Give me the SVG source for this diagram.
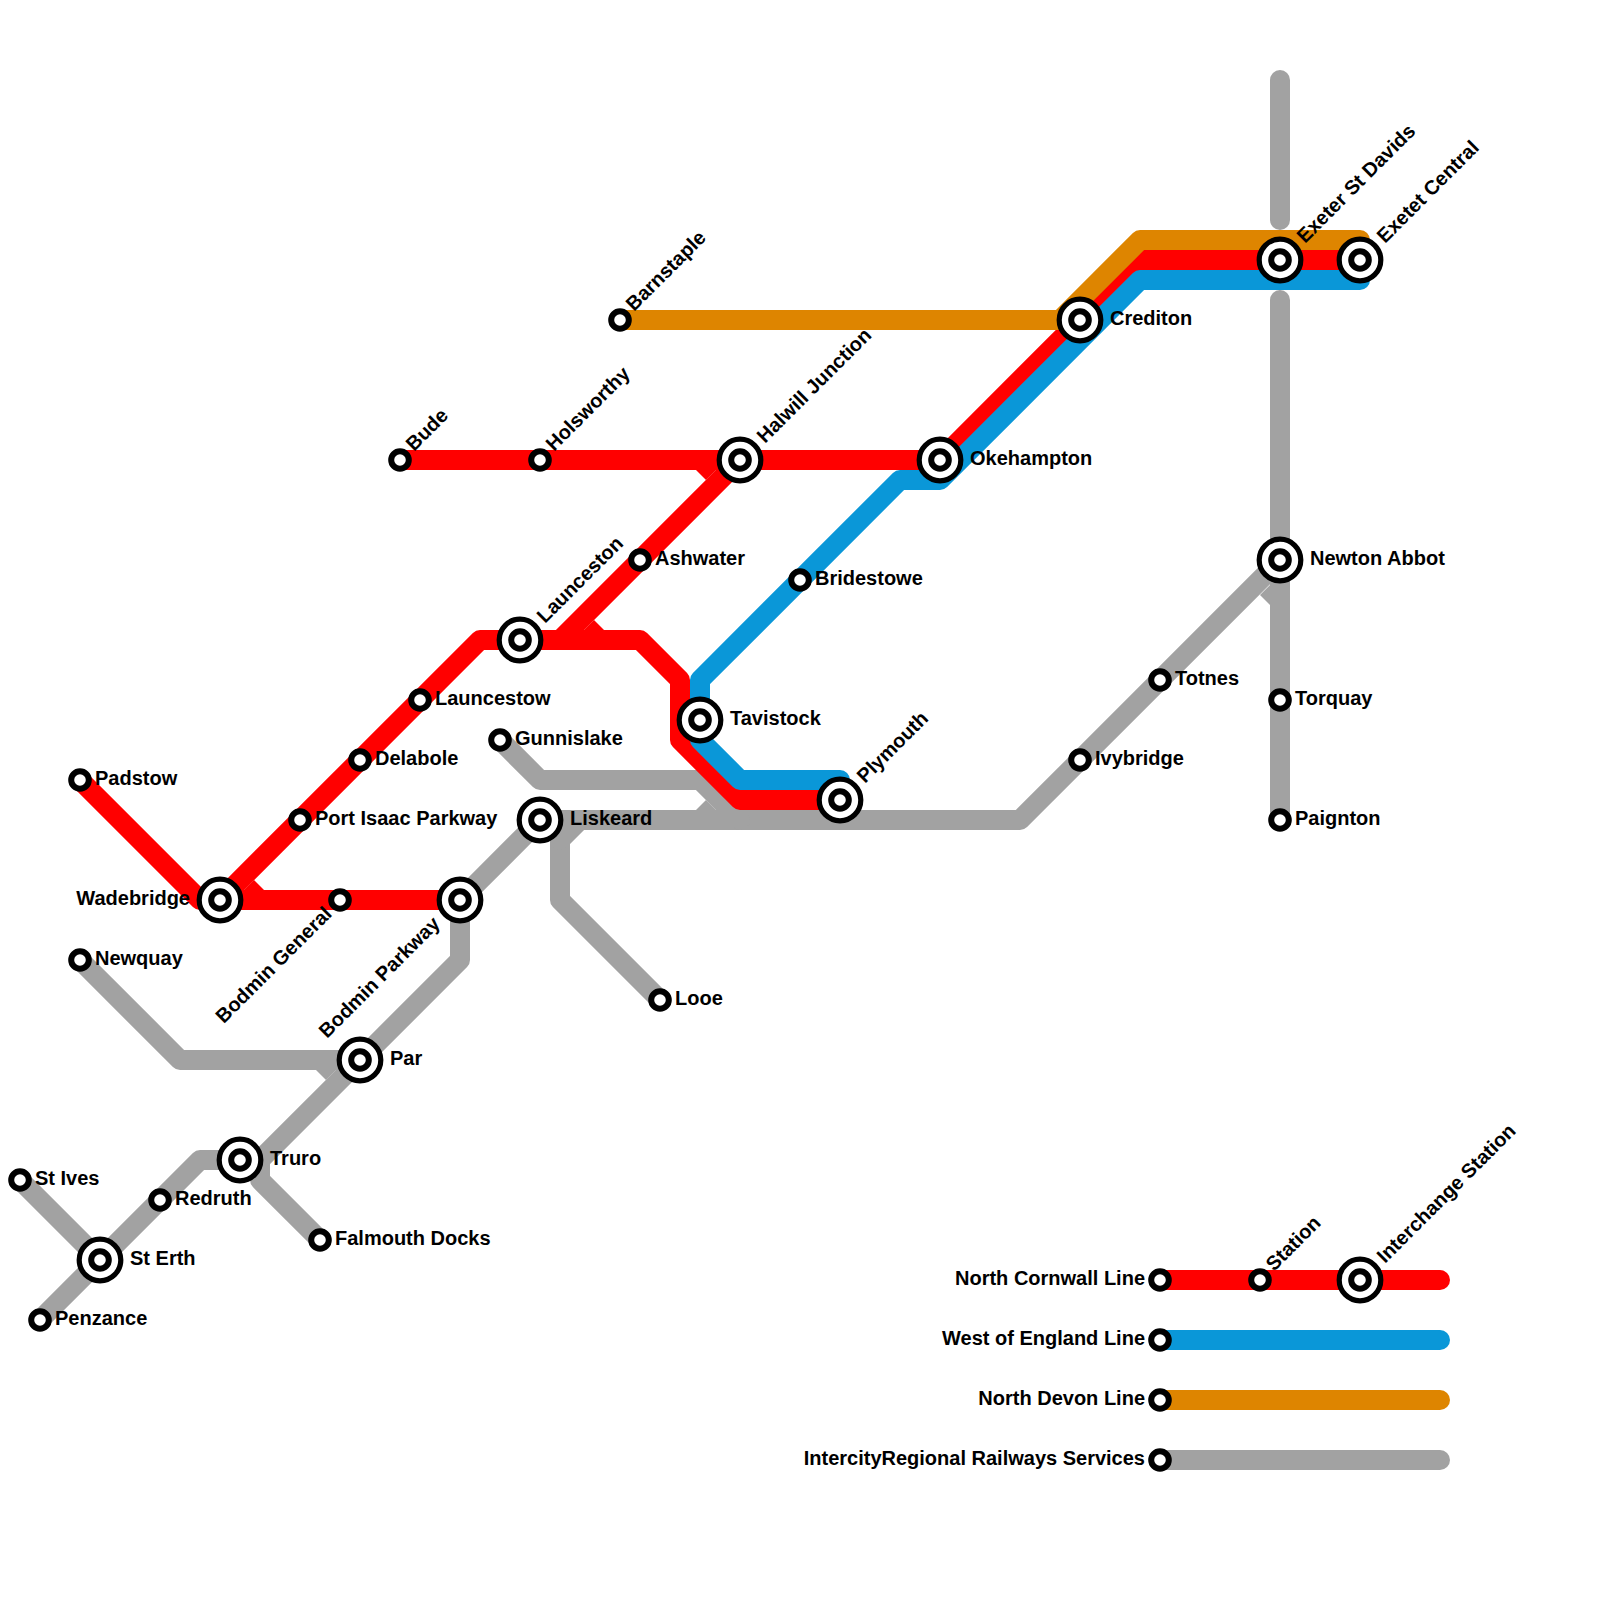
<svg xmlns="http://www.w3.org/2000/svg" width="1600" height="1600" viewBox="0 0 1600 1600">
<style>
.ln{fill:none;stroke-width:20;stroke-linecap:round;stroke-linejoin:round}
.g{stroke:#a2a2a2}.r{stroke:#ff0000}.b{stroke:#0a97d8}.o{stroke:#de8500}
.fg{fill:#a2a2a2}.fr{fill:#ff0000}
.ring{fill:#fff;stroke:#000;stroke-width:6}
.big{fill:#fff;stroke:#000;stroke-width:5.2}
text{font-family:"Liberation Sans",Arial,sans-serif;font-weight:700;font-size:20px;fill:#000}
.e{text-anchor:end}
</style>
<defs>
<g id="s"><circle class="ring" r="8.8"/></g>
<g id="i"><circle class="big" r="20.8"/><circle class="ring" r="8.8"/></g>
</defs>
<rect width="1600" height="1600" fill="#fff"/>
<g id="connectors">
<path class="ln g" d="M80 960L180 1060H360L260 1160V1180L320 1240"/>
<path class="ln g" d="M260 1160H200L40 1320"/>
<path class="ln g" d="M20 1180L100 1260"/>
<path class="ln g" d="M360 1060L460 960V900L540 820H1020L1280 560"/>
<path class="ln g" d="M500 740L540 780H700L740 820"/>
<path class="ln g" d="M540 820H560V900L660 1000"/>
<path class="ln g" d="M560 840L580 820"/>
<path class="ln g" d="M1280 80V220"/>
<path class="ln g" d="M1280 300V820"/>
<polygon class="fg" points="316,1070 326,1080 340,1066 330,1056"/>
<polygon class="fg" points="696,810 706,800 720,814 710,824"/>
<polygon class="fg" points="1260,595 1270,605 1284,591 1274,581"/>
<path class="ln r" d="M80 780L200 900H460"/>
<path class="ln r" d="M220 900L480 640H640L680 680V740L740 800H840"/>
<path class="ln r" d="M400 460H940L1140 260H1360"/>
<path class="ln r" d="M740 460L560 640"/>
<polygon class="fr" points="254,880 264,890 250,904 240,894"/>
<polygon class="fr" points="594,620 604,630 590,644 580,634"/>
<polygon class="fr" points="696,470 706,480 720,466 710,456"/>
<path class="ln b" d="M1360 280H1140L940 480H900L700 680V740L740 780H840V800"/>
<path class="ln o" d="M620 320H1060L1140 240H1360"/>
<path class="ln r" d="M1160 1280H1440"/>
<path class="ln b" d="M1160 1340H1440"/>
<path class="ln o" d="M1160 1400H1440"/>
<path class="ln g" d="M1160 1460H1440"/>
</g>
<g id="padstow"><use href="#s" x="80" y="780"/><text x="95" y="785">Padstow</text></g>
<g id="wadebridge"><use href="#i" x="220" y="900"/><text class="e" x="190" y="905">Wadebridge</text></g>
<g id="bodmin-general"><use href="#s" x="340" y="900"/><text class="e" transform="translate(333 915) rotate(-45)">Bodmin General</text></g>
<g id="bodmin-parkway"><use href="#i" x="460" y="900"/><text class="e" transform="translate(441 925) rotate(-45)">Bodmin Parkway</text></g>
<g id="liskeard"><use href="#i" x="540" y="820"/><text x="570" y="825">Liskeard</text></g>
<g id="launceston"><use href="#i" x="520" y="640"/><text transform="translate(545 624) rotate(-45)">Launceston</text></g>
<g id="launcestow"><use href="#s" x="420" y="700"/><text x="435" y="705">Launcestow</text></g>
<g id="delabole"><use href="#s" x="360" y="760"/><text x="375" y="765">Delabole</text></g>
<g id="port-isaac"><use href="#s" x="300" y="820"/><text x="315" y="825">Port Isaac Parkway</text></g>
<g id="bude"><use href="#s" x="400" y="460"/><text transform="translate(414 452) rotate(-45)">Bude</text></g>
<g id="holsworthy"><use href="#s" x="540" y="460"/><text transform="translate(554 452) rotate(-45)">Holsworthy</text></g>
<g id="halwill"><use href="#i" x="740" y="460"/><text transform="translate(765 444) rotate(-45)">Halwill Junction</text></g>
<g id="okehampton"><use href="#i" x="940" y="460"/><text x="970" y="465">Okehampton</text></g>
<g id="crediton"><use href="#i" x="1080" y="320"/><text x="1110" y="325">Crediton</text></g>
<g id="exeter-st-davids"><use href="#i" x="1280" y="260"/><text transform="translate(1305 244) rotate(-45)">Exeter St Davids</text></g>
<g id="exeter-central"><use href="#i" x="1360" y="260"/><text transform="translate(1385 244) rotate(-45)">Exetet Central</text></g>
<g id="barnstaple"><use href="#s" x="620" y="320"/><text transform="translate(634 312) rotate(-45)">Barnstaple</text></g>
<g id="ashwater"><use href="#s" x="640" y="560"/><text x="655" y="565">Ashwater</text></g>
<g id="bridestowe"><use href="#s" x="800" y="580"/><text x="815" y="585">Bridestowe</text></g>
<g id="tavistock"><use href="#i" x="700" y="720"/><text x="730" y="725">Tavistock</text></g>
<g id="plymouth"><use href="#i" x="840" y="800"/><text transform="translate(865 784) rotate(-45)">Plymouth</text></g>
<g id="gunnislake"><use href="#s" x="500" y="740"/><text x="515" y="745">Gunnislake</text></g>
<g id="looe"><use href="#s" x="660" y="1000"/><text x="675" y="1005">Looe</text></g>
<g id="newquay"><use href="#s" x="80" y="960"/><text x="95" y="965">Newquay</text></g>
<g id="par"><use href="#i" x="360" y="1060"/><text x="390" y="1065">Par</text></g>
<g id="truro"><use href="#i" x="240" y="1160"/><text x="270" y="1165">Truro</text></g>
<g id="falmouth"><use href="#s" x="320" y="1240"/><text x="335" y="1245">Falmouth Docks</text></g>
<g id="redruth"><use href="#s" x="160" y="1200"/><text x="175" y="1205">Redruth</text></g>
<g id="st-erth"><use href="#i" x="100" y="1260"/><text x="130" y="1265">St Erth</text></g>
<g id="st-ives"><use href="#s" x="20" y="1180"/><text x="35" y="1185">St Ives</text></g>
<g id="penzance"><use href="#s" x="40" y="1320"/><text x="55" y="1325">Penzance</text></g>
<g id="newton-abbot"><use href="#i" x="1280" y="560"/><text x="1310" y="565">Newton Abbot</text></g>
<g id="totnes"><use href="#s" x="1160" y="680"/><text x="1175" y="685">Totnes</text></g>
<g id="ivybridge"><use href="#s" x="1080" y="760"/><text x="1095" y="765">Ivybridge</text></g>
<g id="torquay"><use href="#s" x="1280" y="700"/><text x="1295" y="705">Torquay</text></g>
<g id="paignton"><use href="#s" x="1280" y="820"/><text x="1295" y="825">Paignton</text></g>
<g id="legend-north-cornwall"><use href="#s" x="1160" y="1280"/><text class="e" x="1145" y="1285">North Cornwall Line</text></g>
<g id="legend-station"><use href="#s" x="1260" y="1280"/><text transform="translate(1274 1272) rotate(-45)">Station</text></g>
<g id="legend-interchange"><use href="#i" x="1360" y="1280"/><text transform="translate(1385 1264) rotate(-45)">Interchange Station</text></g>
<g id="legend-west-england"><use href="#s" x="1160" y="1340"/><text class="e" x="1145" y="1345">West of England Line</text></g>
<g id="legend-north-devon"><use href="#s" x="1160" y="1400"/><text class="e" x="1145" y="1405">North Devon Line</text></g>
<g id="legend-intercity"><use href="#s" x="1160" y="1460"/><text class="e" x="1145" y="1465">IntercityRegional Railways Services</text></g>
</svg>
